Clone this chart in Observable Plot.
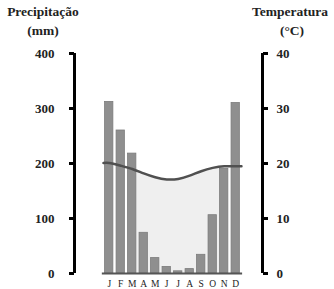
<!DOCTYPE html>
<html>
<head>
<meta charset="utf-8">
<script src="https://cdn.jsdelivr.net/npm/d3@7"></script>
<script src="https://cdn.jsdelivr.net/npm/@observablehq/plot@0.6"></script>
<style>
  html, body { margin: 0; padding: 0; background: #fff; }
  #wrap { position: relative; width: 334px; height: 289px; font-family: "Liberation Serif", "Times New Roman", "DejaVu Serif", serif; }
  .ttl { position: absolute; font-family: "Liberation Serif", "Times New Roman", "DejaVu Serif", serif; font-weight: bold; font-size: 13.5px; color: #222; text-align: center; line-height: 1; white-space: nowrap; }
  svg text { font-family: "Liberation Serif", "Times New Roman", "DejaVu Serif", serif; }
</style>
</head>
<body>
<div id="wrap">
  <div class="ttl" style="left:0px; width:86px; top:5px;">Precipitação</div>
  <div class="ttl" style="left:0px; width:86px; top:24px;">(mm)</div>
  <div class="ttl" style="left:246px; width:88px; top:5px;">Temperatura</div>
  <div class="ttl" style="left:246px; width:92px; top:24px;">(°C)</div>
</div>
<script>
const months = ["J","F","M","A","M","J","J","A","S","O","N","D"];
const precipitation = [312, 260, 218, 74, 28, 12, 4, 8, 34, 106, 190, 310];
const temperature = [20.1, 19.6, 19.0, 18.2, 17.5, 17.1, 17.2, 17.8, 18.6, 19.2, 19.5, 19.5];
const precipTicks = [0, 100, 200, 300, 400];
const tempTicks = [0, 10, 20, 30, 40];

const serif = "'Liberation Serif', 'Times New Roman', 'DejaVu Serif', serif";
const xDomain = [-2.52, 13.83];
const bars = months.map((m, i) => ({i, m, p: precipitation[i]}));
const tline = [{x: 0, t: temperature[0]}]
  .concat(temperature.map((t, i) => ({x: i + 0.5, t})))
  .concat([{x: 12, t: temperature[11]}]);
const tarea = tline.filter(d => d.x >= 2.5 && d.x <= 10.5);

const chart = Plot.plot({
  width: 334,
  height: 289,
  marginLeft: 74,
  marginRight: 72,
  marginTop: 53,
  marginBottom: 16,
  style: {fontFamily: serif, background: "transparent", overflow: "visible"},
  x: {domain: xDomain, axis: null},
  y: {domain: [0, 400], axis: null},
  marks: [
    Plot.areaY(tarea, {x: "x", y: d => d.t * 10, fill: "#efefef", curve: "natural"}),
    Plot.rectY(bars, {x1: "i", x2: d => d.i + 1, y: "p", insetLeft: 1.6, insetRight: 1.6, fill: "#8f8f8f", stroke: "#7c7c7c", strokeWidth: 0.8}),
    Plot.line(tline, {x: "x", y: d => d.t * 10, stroke: "#505050", strokeWidth: 2.5, curve: "natural"}),
    Plot.ruleY([0], {x1: -0.1, x2: 12.1, stroke: "#555", strokeWidth: 2}),
    Plot.text(bars, {x: d => d.i + 0.5, y: 0, text: "m", dy: 10, fontSize: 9.5, fill: "#222", fontFamily: serif}),
    // left axis
    Plot.ruleX([xDomain[0]], {y1: 0, y2: 400, stroke: "#000", strokeWidth: 3}),
    Plot.axisY(precipTicks, {anchor: "left", tickSize: 5, tickPadding: 15, strokeWidth: 3, stroke: "#000", fontSize: 13, fontWeight: "bold", fontFamily: serif, fill: "#222", label: null}),
    // right axis (temperature, scaled x10)
    Plot.ruleX([xDomain[1]], {y1: 0, y2: 400, stroke: "#000", strokeWidth: 3}),
    Plot.axisY(tempTicks.map(t => t * 10), {anchor: "right", tickSize: 5, tickPadding: 9, strokeWidth: 3, stroke: "#000", fontSize: 13, fontWeight: "bold", fontFamily: serif, fill: "#222", tickFormat: d => d / 10, label: null})
  ]
});
chart.style.position = "absolute";
chart.style.left = "0px";
chart.style.top = "0px";
document.getElementById("wrap").appendChild(chart);
</script>
</body>
</html>
